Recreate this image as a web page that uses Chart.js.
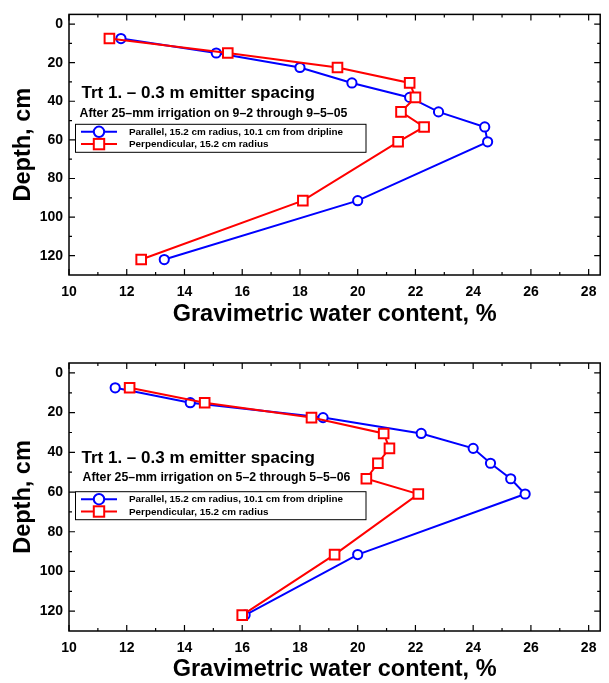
<!DOCTYPE html>
<html>
<head>
<meta charset="utf-8">
<script src="https://cdn.jsdelivr.net/npm/chart.js@4.4.1/dist/chart.umd.min.js"></script>
<style>
  body { margin: 0; background: #fff; width: 609px; height: 683px; overflow: hidden; position: relative; }
  canvas { position: absolute; left: 0; }
  #chartTop { top: 0; }
  #chartBottom { top: 340px; }
</style>
</head>
<body>
<canvas id="chartTop" width="609" height="340"></canvas>
<canvas id="chartBottom" width="609" height="343"></canvas>
<script>
// sample depths, cm
const DEPTHS = [7.5, 15, 22.5, 30.5, 38, 45.5, 53.3, 61, 91.5, 122];

// 9-2 through 9-5-05
const PARALLEL_05 = [11.8, 15.1, 18.0, 19.8, 21.8, 22.8, 24.4, 24.5, 20.0, 13.3];
const PERPENDICULAR_05 = [11.4, 15.5, 19.3, 21.8, 22.0, 21.5, 22.3, 21.4, 18.1, 12.5];

// 5-2 through 5-5-06
const PARALLEL_06 = [11.6, 14.2, 18.8, 22.2, 24.0, 24.6, 25.3, 25.8, 20.0, 16.1];
const PERPENDICULAR_06 = [12.1, 14.7, 18.4, 20.9, 21.1, 20.7, 20.3, 22.1, 19.2, 16.0];

const X_TICKS = [10, 12, 14, 16, 18, 20, 22, 24, 26, 28];
const X_MINOR = [11, 13, 15, 17, 19, 21, 23, 25, 27];
const Y_TICKS = [0, 20, 40, 60, 80, 100, 120];
const Y_MINOR = [10, 30, 50, 70, 90, 110];

const TITLE = 'Trt 1. \u2013 0.3 m emitter spacing';
const SUB_05 = 'After 25\u2013mm irrigation on 9\u20132 through 9\u20135\u201305';
const SUB_06 = 'After 25\u2013mm irrigation on 5\u20132 through 5\u20135\u201306';
const LEGEND_LABELS = ['Parallel, 15.2 cm radius, 10.1 cm from dripline', 'Perpendicular, 15.2 cm radius'];

const FONT = '"Liberation Sans", Arial, Helvetica, sans-serif';
const BLUE = '#0000ff';
const RED = '#ff0000';

const framePlugin = {
  id: 'frame',
  afterDraw(chart, args, opts) {
    const ctx = chart.ctx;
    const a = chart.chartArea;
    const xs = chart.scales.x;
    const ys = chart.scales.y;
    ctx.save();
    ctx.strokeStyle = '#000';
    ctx.lineWidth = 1.5;
    ctx.strokeRect(a.left, a.top, a.right - a.left, a.bottom - a.top);

    // inward ticks on all four sides
    ctx.lineWidth = 1.2;
    ctx.beginPath();
    const tickX = (v, len) => {
      const px = xs.getPixelForValue(v);
      ctx.moveTo(px, a.bottom); ctx.lineTo(px, a.bottom - len);
      ctx.moveTo(px, a.top); ctx.lineTo(px, a.top + len);
    };
    const tickY = (v, len) => {
      const py = ys.getPixelForValue(v);
      ctx.moveTo(a.left, py); ctx.lineTo(a.left + len, py);
      ctx.moveTo(a.right, py); ctx.lineTo(a.right - len, py);
    };
    X_TICKS.forEach(v => tickX(v, 6));
    X_MINOR.forEach(v => tickX(v, 3));
    Y_TICKS.forEach(v => tickY(v, 6));
    Y_MINOR.forEach(v => tickY(v, 3));
    ctx.stroke();

    // annotation text
    ctx.fillStyle = '#000';
    ctx.textAlign = 'left';
    ctx.textBaseline = 'alphabetic';
    ctx.font = 'bold 17px ' + FONT;
    ctx.fillText(opts.title, 81.5, opts.titleY);
    ctx.font = 'bold 12.3px ' + FONT;
    ctx.fillText(opts.sub, opts.subX, opts.subY);

    // legend box
    const bx = 75.5, bw = 290.5, bh = 28;
    const by = opts.boxY;
    ctx.fillStyle = '#fff';
    ctx.fillRect(bx, by, bw, bh);
    ctx.lineWidth = 1;
    ctx.strokeStyle = '#000';
    ctx.strokeRect(bx, by, bw, bh);

    const rows = [by + 7.5, by + 19.8];
    ctx.lineWidth = 2;
    // parallel
    ctx.strokeStyle = BLUE;
    ctx.beginPath(); ctx.moveTo(81, rows[0]); ctx.lineTo(117, rows[0]); ctx.stroke();
    ctx.beginPath(); ctx.arc(99, rows[0], 5.2, 0, Math.PI * 2);
    ctx.fillStyle = '#fff'; ctx.fill(); ctx.stroke();
    // perpendicular
    ctx.strokeStyle = RED;
    ctx.beginPath(); ctx.moveTo(81, rows[1]); ctx.lineTo(117, rows[1]); ctx.stroke();
    ctx.fillRect(99 - 5.2, rows[1] - 5.2, 10.4, 10.4);
    ctx.strokeRect(99 - 5.2, rows[1] - 5.2, 10.4, 10.4);

    ctx.fillStyle = '#000';
    ctx.font = 'bold 9.9px ' + FONT;
    ctx.textBaseline = 'middle';
    ctx.fillText(LEGEND_LABELS[0], 129, rows[0] + 0.5);
    ctx.fillText(LEGEND_LABELS[1], 129, rows[1] + 0.5);
    ctx.restore();
  }
};

function toPoints(xVals) {
  return xVals.map((x, i) => ({ x: x, y: DEPTHS[i] }));
}

function makeChart(canvasId, parallel, perpendicular, lay) {
  const ctx = document.getElementById(canvasId).getContext('2d');
  return new Chart(ctx, {
    type: 'scatter',
    data: {
      datasets: [
        {
          label: LEGEND_LABELS[0],
          data: toPoints(parallel),
          showLine: true,
          borderColor: BLUE,
          borderWidth: 2,
          pointStyle: 'circle',
          pointRadius: 4.6,
          pointBorderWidth: 2,
          pointBackgroundColor: '#fff',
          pointBorderColor: BLUE,
          order: 1
        },
        {
          label: LEGEND_LABELS[1],
          data: toPoints(perpendicular),
          showLine: true,
          borderColor: RED,
          borderWidth: 2,
          pointStyle: 'rect',
          pointRadius: 6.8,
          pointBorderWidth: 2,
          pointBackgroundColor: '#fff',
          pointBorderColor: RED,
          order: 0
        }
      ]
    },
    options: {
      responsive: false,
      animation: false,
      devicePixelRatio: 1,
      layout: { padding: { left: 0, right: 5, top: lay.padTop, bottom: 0 } },
      plugins: {
        legend: { display: false },
        tooltip: { enabled: false },
        frame: { title: TITLE, sub: lay.sub, titleY: lay.titleY, subX: lay.subX, subY: lay.subY, boxY: lay.boxY }
      },
      scales: {
        x: {
          type: 'linear',
          position: 'bottom',
          min: 10,
          max: 28.4,
          afterBuildTicks: s => { s.ticks = X_TICKS.map(v => ({ value: v })); },
          afterFit: s => { s.height = lay.xAxisH; },
          grid: { display: false, drawTicks: false },
          border: { display: false },
          ticks: { color: '#000', padding: 9, font: { family: FONT, size: 14, weight: 'bold' } },
          title: {
            display: true,
            text: 'Gravimetric water content, %',
            color: '#000',
            font: { family: FONT, size: 23.5, weight: 'bold', lineHeight: 1 },
            padding: { top: 0, bottom: lay.xTitlePad }
          }
        },
        y: {
          type: 'linear',
          reverse: true,
          min: -5,
          max: 130,
          afterBuildTicks: s => { s.ticks = Y_TICKS.map(v => ({ value: v })); },
          afterFit: s => { s.width = 69; },
          grid: { display: false, drawTicks: false },
          border: { display: false },
          ticks: { color: '#000', padding: 6, font: { family: FONT, size: 14, weight: 'bold' } },
          title: {
            display: true,
            text: 'Depth, cm',
            color: '#000',
            font: { family: FONT, size: 23.5, weight: 'bold', lineHeight: 1.2 },
            padding: { top: 9, bottom: 0 }
          }
        }
      }
    },
    plugins: [framePlugin]
  });
}

makeChart('chartTop', PARALLEL_05, PERPENDICULAR_05, {
  padTop: 9, xAxisH: 65, xTitlePad: 13.3,
  sub: SUB_05, titleY: 98.3, subX: 79.5, subY: 116.7, boxY: 124.3
});

makeChart('chartBottom', PARALLEL_06, PERPENDICULAR_06, {
  padTop: 23, xAxisH: 52, xTitlePad: 1.6,
  sub: SUB_06, titleY: 123.3, subX: 82.5, subY: 141, boxY: 151.7
});
</script>
</body>
</html>
